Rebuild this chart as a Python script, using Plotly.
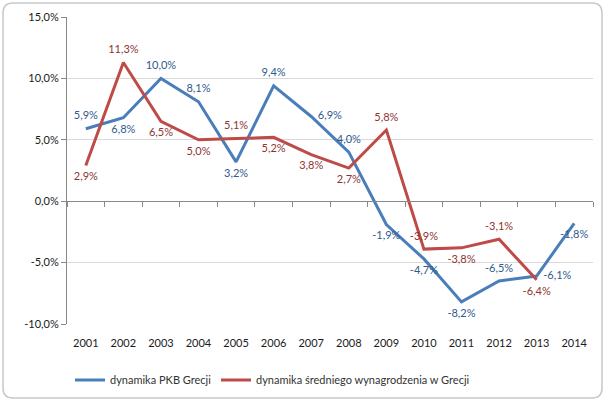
import plotly.graph_objects as go

years = ["2001", "2002", "2003", "2004", "2005", "2006", "2007",
         "2008", "2009", "2010", "2011", "2012", "2013", "2014"]
pkb = [5.9, 6.8, 10.0, 8.1, 3.2, 9.4, 6.9, 4.0, -1.9, -4.7, -8.2, -6.5, -6.1, -1.8]
wages = [2.9, 11.3, 6.5, 5.0, 5.1, 5.2, 3.8, 2.7, 5.8, -3.9, -3.8, -3.1, -6.4]
y_ticks = [-10, -5, 0, 5, 10, 15]
y_ticktext = ["-10,0%", "-5,0%", "0,0%", "5,0%", "10,0%", "15,0%"]
name_pkb = "dynamika PKB Grecji"
name_wages = "dynamika średniego wynagrodzenia w Grecji"

pos_pkb = ["top center", "bottom center", "top center", "top center", "bottom center",
           "top center", "middle right", "top center", "bottom center", "bottom center",
           "bottom center", "top center", "middle right", "bottom center"]
pos_wages = ["bottom center", "top center", "bottom center", "bottom center", "top center",
             "bottom center", "bottom center", "bottom center", "top center", "top center",
             "bottom center", "top center", "bottom center"]


def fmt(v):
    return f"{v:.1f}%".replace(".", ",")


FONT = "Lato"
BLUE = "#4A7EBB"
RED = "#BE4B48"

fig = go.Figure()
fig.add_trace(go.Scatter(
    x=years, y=pkb, name=name_pkb, mode="lines+markers+text",
    line=dict(color=BLUE, width=3),
    marker=dict(size=9, color="rgba(0,0,0,0)"),
    text=[fmt(v) for v in pkb], textposition=pos_pkb,
    textfont=dict(family=FONT, size=11, color="#2F5A8C"),
    cliponaxis=False, legend="legend",
))
fig.add_trace(go.Scatter(
    x=years[:len(wages)], y=wages, name=name_wages, mode="lines+markers+text",
    line=dict(color=RED, width=3),
    marker=dict(size=9, color="rgba(0,0,0,0)"),
    text=[fmt(v) for v in wages], textposition=pos_wages,
    textfont=dict(family=FONT, size=11, color="#8E3532"),
    cliponaxis=False, legend="legend2",
))
# invisible trace on the overlay x-axis (axis at 0 with boundary ticks)
fig.add_trace(go.Scatter(x=years, y=[None] * len(years), xaxis="x2",
                         showlegend=False, hoverinfo="skip"))

L, R, T, B = 67, 17, 17, 78
W, H = 610, 402
pw, ph = W - L - R, H - T - B


def px(xp):
    return (xp - L) / pw


def py(yp):
    return (H - B - yp) / ph


x0, x1, y0, y1 = px(3), px(602), py(398), py(3)
rx, ry = 10 / pw, 10 / ph
path = (f"M {x0+rx},{y1} L {x1-rx},{y1} Q {x1},{y1} {x1},{y1-ry} "
        f"L {x1},{y0+ry} Q {x1},{y0} {x1-rx},{y0} L {x0+rx},{y0} "
        f"Q {x0},{y0} {x0},{y0+ry} L {x0},{y1-ry} Q {x0},{y1} {x0+rx},{y1} Z")

leg_common = dict(orientation="h", xanchor="left", xref="container", yref="container",
                  y=(H - 380) / H, yanchor="middle",
                  font=dict(family=FONT, size=11, color="#333333"),
                  itemwidth=30, bgcolor="rgba(0,0,0,0)")

fig.update_layout(
    width=W, height=H,
    margin=dict(l=L, r=R, t=T, b=B, autoexpand=False),
    paper_bgcolor="white", plot_bgcolor="white",
    font=dict(family=FONT, size=11, color="#1a1a1a"),
    showlegend=True,
    legend=dict(x=70 / W, **leg_common),
    legend2=dict(x=216 / W, **leg_common),
    xaxis=dict(type="category", range=[-0.5, 13.5], showgrid=False, showline=False,
               ticks="", ticklabelstandoff=11, tickfont=dict(family=FONT, size=11, color="#1a1a1a"),
               zeroline=False),
    xaxis2=dict(type="category", range=[-0.5, 13.5], overlaying="x", anchor="free",
                position=(0 - (-10)) / 25, side="bottom", showline=True, linecolor="#888888",
                linewidth=1, ticks="outside", ticklen=5, tickcolor="#888888",
                tickson="boundaries", showticklabels=False, showgrid=False),
    yaxis=dict(range=[-10, 15], tickvals=y_ticks, ticktext=y_ticktext,
               showgrid=True, gridcolor="#D9D9D9", gridwidth=1,
               showline=True, linecolor="#888888", linewidth=1,
               ticks="outside", ticklen=5, tickcolor="#888888",
               zeroline=False, tickfont=dict(family=FONT, size=11, color="#1a1a1a")),
    shapes=[dict(type="path", xref="paper", yref="paper", path=path,
                 line=dict(color="#C8C8C8", width=1.5), layer="below")],
)

fig.write_html("out.html", config={"displayModeBar": False},
               post_script="document.body.style.margin='0';document.body.style.overflow='hidden';")
